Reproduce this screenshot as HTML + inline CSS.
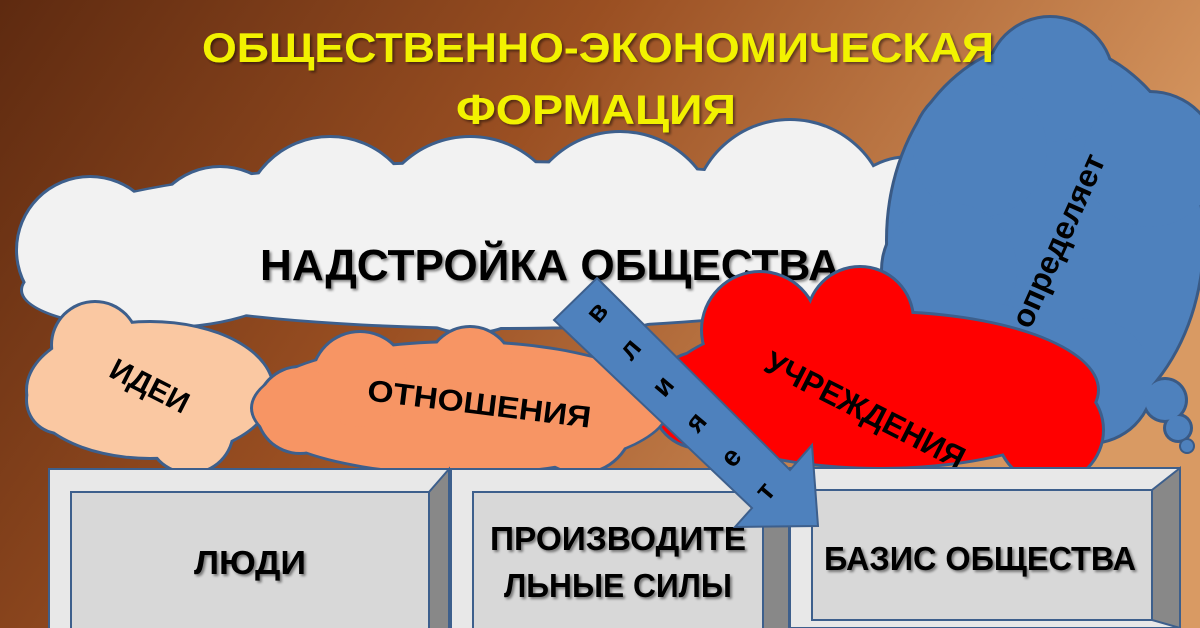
<!DOCTYPE html>
<html><head><meta charset="utf-8"><style>
html,body{margin:0;padding:0;width:1200px;height:628px;overflow:hidden}
svg{display:block}
text{font-family:"Liberation Sans","DejaVu Sans",sans-serif;font-weight:bold}
</style></head><body>
<svg width="1200" height="628" viewBox="0 0 1200 628" xmlns="http://www.w3.org/2000/svg">
<defs>
<linearGradient id="bg" x1="0" y1="0" x2="1" y2="0.35">
<stop offset="0" stop-color="#5e2a10"/>
<stop offset="0.45" stop-color="#9a4f22"/>
<stop offset="1" stop-color="#d99a63"/>
</linearGradient>
<filter id="sh"><feDropShadow dx="2" dy="2" stdDeviation="1.2" flood-color="#000" flood-opacity="0.45"/></filter>
</defs>
<rect width="1200" height="628" fill="url(#bg)"/>

<!-- white cloud -->
<g fill="#3d5f8c">
<ellipse cx="500" cy="245" rx="478" ry="85"/>
<circle cx="90" cy="250" r="75"/><circle cx="220" cy="240" r="75"/>
<circle cx="330" cy="225" r="90"/><circle cx="470" cy="235" r="100"/>
<circle cx="620" cy="230" r="100"/><circle cx="790" cy="218" r="100"/>
<circle cx="910" cy="235" r="80"/>
<ellipse cx="150" cy="290" rx="130" ry="40"/>
</g>
<g fill="#f2f2f2">
<ellipse cx="500" cy="245" rx="475" ry="82"/>
<circle cx="90" cy="250" r="72"/><circle cx="220" cy="240" r="72"/>
<circle cx="330" cy="225" r="87"/><circle cx="470" cy="235" r="97"/>
<circle cx="620" cy="230" r="97"/><circle cx="790" cy="218" r="97"/>
<circle cx="910" cy="235" r="77"/>
<ellipse cx="150" cy="290" rx="127" ry="37"/>
</g>
<text x="550" y="280" font-size="44" text-anchor="middle" textLength="580" lengthAdjust="spacingAndGlyphs" fill="#000" filter="url(#sh)">НАДСТРОЙКА ОБЩЕСТВА</text>

<!-- blue cloud -->
<g fill="#3a5a85">
<ellipse cx="1045" cy="240" rx="160" ry="200"/>
<circle cx="1050" cy="80" r="65"/><circle cx="980" cy="150" r="70"/>
<circle cx="950" cy="270" r="70"/><circle cx="990" cy="370" r="70"/>
<circle cx="1090" cy="380" r="65"/><circle cx="1150" cy="160" r="70"/>
<circle cx="1165" cy="400" r="23"/><circle cx="1178" cy="428" r="15"/><circle cx="1187" cy="446" r="8"/>
</g>
<g fill="#4e81bd">
<ellipse cx="1045" cy="240" rx="157" ry="197"/>
<circle cx="1050" cy="80" r="62"/><circle cx="980" cy="150" r="67"/>
<circle cx="950" cy="270" r="67"/><circle cx="990" cy="370" r="67"/>
<circle cx="1090" cy="380" r="62"/><circle cx="1150" cy="160" r="67"/>
<circle cx="1165" cy="400" r="20"/><circle cx="1178" cy="428" r="12"/><circle cx="1187" cy="446" r="6"/>
</g>
<text transform="translate(1068,245) rotate(-66)" font-size="32" text-anchor="middle" fill="#000">определяет</text>

<!-- title -->
<g filter="url(#sh)" fill="#f2f200">
<text x="598" y="62" font-size="42" text-anchor="middle" textLength="792" lengthAdjust="spacingAndGlyphs">ОБЩЕСТВЕННО-ЭКОНОМИЧЕСКАЯ</text>
<text x="596" y="124" font-size="42" text-anchor="middle" textLength="280" lengthAdjust="spacingAndGlyphs">ФОРМАЦИЯ</text>
</g>

<!-- red cloud -->
<g fill="#3d5f8c">
<ellipse cx="880" cy="390" rx="220" ry="80"/>
<circle cx="760" cy="330" r="60"/><circle cx="860" cy="320" r="55"/>
<circle cx="700" cy="400" r="50"/><circle cx="1050" cy="430" r="55"/>
</g>
<g fill="#ff0000">
<ellipse cx="880" cy="390" rx="217" ry="77"/>
<circle cx="760" cy="330" r="57"/><circle cx="860" cy="320" r="52"/>
<circle cx="700" cy="400" r="47"/><circle cx="1050" cy="430" r="52"/>
</g>
<text transform="translate(860,420) rotate(27)" font-size="32" text-anchor="middle" textLength="220" lengthAdjust="spacingAndGlyphs" fill="#000">УЧРЕЖДЕНИЯ</text>

<!-- peach cloud -->
<g fill="#3d5f8c">
<ellipse cx="150" cy="390" rx="125" ry="70"/>
<circle cx="95" cy="345" r="45"/><circle cx="190" cy="430" r="45"/>
<circle cx="60" cy="400" r="35"/>
</g>
<g fill="#fac8a2">
<ellipse cx="150" cy="390" rx="122" ry="67"/>
<circle cx="95" cy="345" r="42"/><circle cx="190" cy="430" r="42"/>
<circle cx="60" cy="400" r="32"/>
</g>
<text transform="translate(145,395) rotate(27)" font-size="30" text-anchor="middle" fill="#000">ИДЕИ</text>

<!-- orange cloud -->
<g fill="#3d5f8c">
<ellipse cx="460" cy="408" rx="210" ry="68"/>
<circle cx="360" cy="380" r="50"/><circle cx="470" cy="370" r="45"/>
<circle cx="580" cy="420" r="55"/><circle cx="300" cy="410" r="45"/>
</g>
<g fill="#f79564">
<ellipse cx="460" cy="408" rx="207" ry="65"/>
<circle cx="360" cy="380" r="47"/><circle cx="470" cy="370" r="42"/>
<circle cx="580" cy="420" r="52"/><circle cx="300" cy="410" r="42"/>
</g>
<text transform="translate(478,414) rotate(7)" font-size="30" text-anchor="middle" textLength="225" lengthAdjust="spacingAndGlyphs" fill="#000">ОТНОШЕНИЯ</text>

<!-- boxes -->
<g stroke="#3d5f8c" stroke-width="2">
<rect x="49" y="469" width="400" height="170" fill="#e8e8e8"/>
<polygon points="429,492 449,469 449,640 429,640" fill="#888"/>
<rect x="71" y="492" width="358" height="150" fill="#d8d8d8"/>
<rect x="451" y="469" width="338" height="170" fill="#e8e8e8"/>
<polygon points="763,492 789,469 789,640 763,640" fill="#888"/>
<rect x="473" y="492" width="290" height="150" fill="#d8d8d8"/>
<rect x="790" y="468" width="390" height="160" fill="#e8e8e8"/>
<polygon points="1152,490 1180,468 1180,628 1152,620" fill="#888"/>
<rect x="812" y="490" width="340" height="130" fill="#d8d8d8"/>
</g>
<g fill="#000" filter="url(#sh)" text-anchor="middle" font-size="33">
<text x="250" y="574" textLength="112" lengthAdjust="spacingAndGlyphs">ЛЮДИ</text>
<text x="618" y="550" textLength="256" lengthAdjust="spacingAndGlyphs">ПРОИЗВОДИТЕ</text>
<text x="618" y="597" textLength="228" lengthAdjust="spacingAndGlyphs">ЛЬНЫЕ СИЛЫ</text>
<text x="980" y="570" textLength="312" lengthAdjust="spacingAndGlyphs">БАЗИС ОБЩЕСТВА</text>
</g>

<!-- arrow -->
<polygon points="597,278 790,470 812,445 818,526 735,527 752,508 554,320" fill="#4e81bd" stroke="#3d5f8c" stroke-width="2"/>
<g fill="#000" font-size="28" text-anchor="middle">
<text transform="translate(604,318) rotate(-50)">в</text>
<text transform="translate(637,355) rotate(-50)">л</text>
<text transform="translate(670,392) rotate(-50)">и</text>
<text transform="translate(703,428) rotate(-50)">я</text>
<text transform="translate(738,463) rotate(-50)">е</text>
<text transform="translate(772,497) rotate(-50)">т</text>
</g>
</svg>
</body></html>
